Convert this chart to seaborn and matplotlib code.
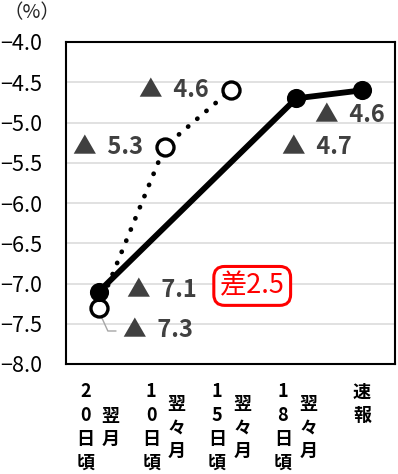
import numpy as np
import matplotlib
matplotlib.use("Agg")
import matplotlib.pyplot as plt
import matplotlib.transforms as mtransforms
import seaborn as sns

# ---- data -------------------------------------------------------------
# category labels: day part (left column) and month part (right column)
cat_days = ["20日頃", "10日頃", "15日頃", "18日頃", ""]
cat_months = ["翌月", "翌々月", "翌々月", "翌々月", "速報"]

# solid series: categories 0, 3, 4
solid_x = [0, 3, 4]
solid_y = [-7.1, -4.7, -4.6]

# dotted series: categories 0, 1, 2
dotted_x = [0, 1, 2]
dotted_y = [-7.3, -5.3, -4.6]

yticks = [-8.0, -7.5, -7.0, -6.5, -6.0, -5.5, -5.0, -4.5, -4.0]

# ---- style ------------------------------------------------------------
sns.set_theme(style="white")
plt.rcParams["font.family"] = ["Noto Sans CJK JP", "DejaVu Sans"]

W, H = 398, 474
fig = plt.figure(figsize=(W / 100, H / 100), dpi=100)
ax = fig.add_axes([66 / W, 1 - 364 / H, (395 - 66) / W, (364 - 42) / H])

ax.set_xlim(-0.5, 4.5)
ax.set_ylim(-8.0, -4.0)

# horizontal gridlines
for v in yticks[1:-1]:
    ax.axhline(v, color="#d9d9d9", lw=1.1, zorder=0)

# dotted series with open markers
sns.lineplot(x=dotted_x, y=dotted_y, ax=ax, color="black", lw=3.4,
             linestyle=(0, (0.05, 2.5)), dash_capstyle="round", zorder=2)
sns.scatterplot(x=dotted_x, y=dotted_y, ax=ax, s=150, marker="o",
                facecolor="white", edgecolor="black", linewidth=2.4, zorder=3)

# solid series with filled markers
sns.lineplot(x=solid_x, y=solid_y, ax=ax, color="black", lw=4.2,
             solid_capstyle="round", zorder=4)
sns.scatterplot(x=solid_x, y=solid_y, ax=ax, s=190, marker="o",
                color="black", edgecolor="black", linewidth=0, zorder=5)

# value labels
lab_kw = dict(color="#404040", fontsize=17, fontweight="bold",
              va="center", ha="left", zorder=6)
dotted_pos = [(0.36, -7.58), (-0.40, -5.3), (0.61, -4.6)]
solid_pos = [(0.43, -7.08), (2.78, -5.3), (3.29, -4.91)]
for v, (px, py) in zip(dotted_y, dotted_pos):
    ax.text(px, py, f"▲  {abs(v):.1f}", **lab_kw)
for v, (px, py) in zip(solid_y, solid_pos):
    ax.text(px, py, f"▲  {abs(v):.1f}", **lab_kw)

# leader line for the first dotted label
ax.plot([0.03, 0.136, 0.26], [-7.40, -7.59, -7.59], color="#a6a6a6",
        lw=1.0, zorder=1)

# difference callout
diff = solid_y[-1] - solid_y[0]
ax.text(2.33, -7.03, f"差{diff:.1f}", color="red", fontsize=19.5,
        ha="center", va="center", zorder=7,
        bbox=dict(boxstyle="round,pad=0.22,rounding_size=0.4",
                  fc="white", ec="red", lw=2.2))

# axes frame
for s in ax.spines.values():
    s.set_visible(True)
    s.set_color("black")
    s.set_linewidth(1.5)

# y tick labels
ax.set_yticks(yticks)
ax.set_yticklabels([f"{v:.1f}".replace("-", "−") for v in yticks],
                   fontsize=15.5, color="black")
ax.tick_params(axis="y", length=0, pad=17)

# x tick labels written as vertical columns
ax.set_xticks(range(len(cat_months)))
ax.set_xticklabels([])
ax.tick_params(axis="x", length=0)
trans = mtransforms.blended_transform_factory(ax.transData, fig.transFigure)
char_kw = dict(fontsize=13, fontweight="bold", color="black",
               ha="center", va="center", transform=trans)
step = 23.7
for i, (d, m) in enumerate(zip(cat_days, cat_months)):
    if d:
        n = len(d)
        for k, ch in enumerate(d):
            ypx = 427.5 + (k - (n - 1) / 2) * step
            ax.text(i - 0.205, 1 - ypx / H, ch, **char_kw)
        n = len(m)
        for k, ch in enumerate(m):
            ypx = 428 + (k - (n - 1) / 2) * step
            ax.text(i + 0.18, 1 - ypx / H, ch, **char_kw)
    else:
        for k, ch in enumerate(m):
            ypx = 392 + k * step
            ax.text(i, 1 - ypx / H, ch, **char_kw)

# unit label
fig.text(32 / W, 1 - 13 / H, "（%）", fontsize=14, ha="center", va="center")

fig.savefig("out.png", dpi=100)
